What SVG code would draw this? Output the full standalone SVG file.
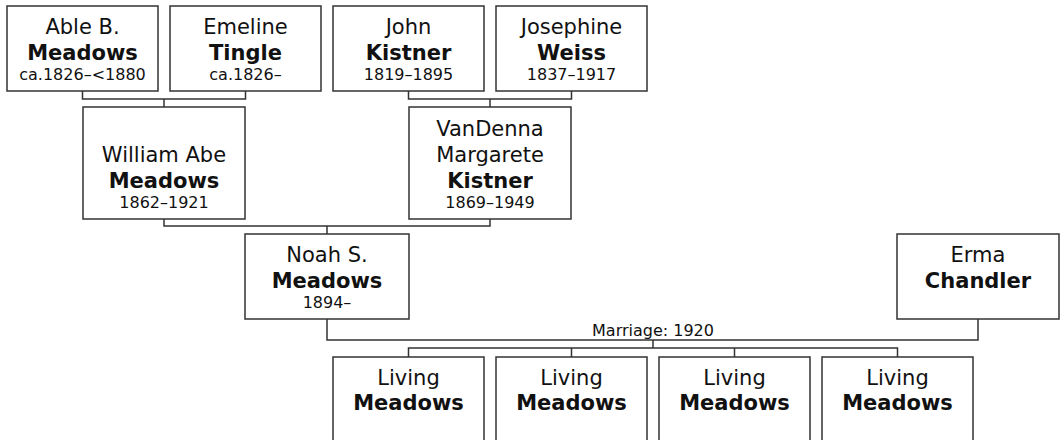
<svg xmlns="http://www.w3.org/2000/svg" width="1062" height="440" viewBox="0 0 1062 440">
<style>
.box{fill:#fff;stroke:#333;stroke-width:1.5}
.ln{fill:none;stroke:#333;stroke-width:1.5}
text{font-family:"DejaVu Sans","Verdana",sans-serif;fill:#111;text-anchor:middle}
.n{font-size:21px}
.b{font-size:21px;font-weight:bold}
.d{font-size:16px}
.m{font-size:16px}
</style>
<rect width="1062" height="440" fill="#fff"/>
<g id="connectors">
<path class="ln" d="M82.5,91V99H245.5V91M164,99V107"/>
<path class="ln" d="M408.5,91V99H571.5V91M490,99V107"/>
<path class="ln" d="M164,219V226H490V219M327,226V234"/>
<path class="ln" d="M327,319V340H978V319M653,340V348"/>
<path class="ln" d="M408.5,357V348H897.5V357M571.5,348V357M734.5,348V357"/>
<text class="m" x="653" y="336">Marriage: 1920</text>
</g>
<g id="able">
<rect class="box" x="7" y="6" width="151" height="85"/>
<text class="n" x="82.5" y="34">Able B.</text>
<text class="b" x="82.5" y="60">Meadows</text>
<text class="d" x="82.5" y="80">ca.1826–&lt;1880</text>
</g>
<g id="emeline">
<rect class="box" x="170" y="6" width="151" height="85"/>
<text class="n" x="245.5" y="34">Emeline</text>
<text class="b" x="245.5" y="60">Tingle</text>
<text class="d" x="245.5" y="80">ca.1826–</text>
</g>
<g id="john">
<rect class="box" x="333" y="6" width="151" height="85"/>
<text class="n" x="408.5" y="34">John</text>
<text class="b" x="408.5" y="60">Kistner</text>
<text class="d" x="408.5" y="80">1819–1895</text>
</g>
<g id="josephine">
<rect class="box" x="496" y="6" width="151" height="85"/>
<text class="n" x="571.5" y="34">Josephine</text>
<text class="b" x="571.5" y="60">Weiss</text>
<text class="d" x="571.5" y="80">1837–1917</text>
</g>
<g id="william">
<rect class="box" x="83" y="107" width="162" height="112"/>
<text class="n" x="164" y="162">William Abe</text>
<text class="b" x="164" y="188">Meadows</text>
<text class="d" x="164" y="208">1862–1921</text>
</g>
<g id="vandenna">
<rect class="box" x="409" y="107" width="162" height="112"/>
<text class="n" x="490" y="136">VanDenna</text>
<text class="n" x="490" y="162">Margarete</text>
<text class="b" x="490" y="188">Kistner</text>
<text class="d" x="490" y="208">1869–1949</text>
</g>
<g id="noah">
<rect class="box" x="245" y="234" width="164" height="85"/>
<text class="n" x="327" y="262">Noah S.</text>
<text class="b" x="327" y="288">Meadows</text>
<text class="d" x="327" y="308">1894–</text>
</g>
<g id="erma">
<rect class="box" x="897" y="234" width="162" height="85"/>
<text class="n" x="978" y="262">Erma</text>
<text class="b" x="978" y="288">Chandler</text>
</g>
<g id="child1">
<rect class="box" x="333" y="357" width="151" height="90"/>
<text class="n" x="408.5" y="385">Living</text>
<text class="b" x="408.5" y="410">Meadows</text>
</g>
<g id="child2">
<rect class="box" x="496" y="357" width="151" height="90"/>
<text class="n" x="571.5" y="385">Living</text>
<text class="b" x="571.5" y="410">Meadows</text>
</g>
<g id="child3">
<rect class="box" x="659" y="357" width="151" height="90"/>
<text class="n" x="734.5" y="385">Living</text>
<text class="b" x="734.5" y="410">Meadows</text>
</g>
<g id="child4">
<rect class="box" x="822" y="357" width="151" height="90"/>
<text class="n" x="897.5" y="385">Living</text>
<text class="b" x="897.5" y="410">Meadows</text>
</g>
</svg>
